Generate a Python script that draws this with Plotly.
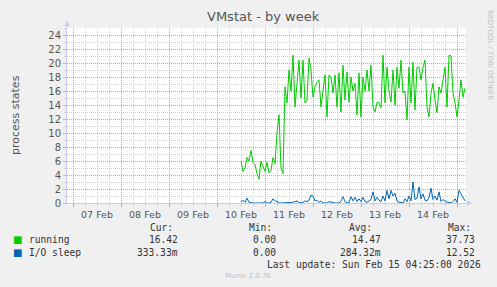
import pandas as pd
import plotly.graph_objects as go

# ---------------- data ----------------
series_start = "2026-02-10 12:00"
running = [
    6.0, 4.5, 5.0, 6.5, 6.0, 7.5, 5.8, 5.5, 4.2, 3.4,
    6.0, 5.2, 4.5, 5.8, 4.3, 4.6, 6.5, 5.6, 10.0, 12.6,
    5.0, 4.2, 16.6, 14.3, 19.0, 16.0, 21.1, 13.7, 17.0, 20.4,
    15.0, 20.4, 14.3, 14.7, 20.7, 19.0, 15.1, 16.6, 17.3, 17.6,
    13.7, 16.0, 18.3, 12.3, 18.3, 18.0, 15.7, 18.3, 13.7, 18.6,
    13.0, 19.7, 14.7, 18.7, 14.4, 18.0, 16.0, 17.1, 12.6, 18.6,
    12.3, 18.0, 16.0, 19.0, 16.0, 19.7, 13.7, 13.0, 14.4, 14.3,
    13.6, 21.1, 14.3, 19.4, 16.0, 14.4, 19.0, 14.0, 19.4, 16.4,
    20.4, 15.7, 16.0, 11.9, 19.4, 14.3, 20.1, 13.3, 19.4, 19.4,
    17.6, 19.4, 20.4, 13.7, 12.3, 15.7, 17.1, 14.7, 12.9, 16.6,
    15.7, 17.6, 19.4, 13.7, 21.1, 21.0, 15.7, 14.3, 12.3, 14.7,
    17.6, 15.1, 16.4,
]
io_sleep = [
    0.1, 0.4, 0.1, 0.7, 0.1, 0.0, 0.0, 0.0, 0.0, 0.0,
    0.0, 0.0, 0.2, 0.0, 0.0, 0.1, 0.6, 0.3, 0.2, 0.0,
    0.0, 0.0, 0.0, 0.0, 0.1, 0.0, 0.1, 0.2, 0.3, 0.1,
    0.0, 0.1, 0.3, 0.2, 0.4, 1.1, 1.0, 0.3, 0.4, 0.1,
    0.3, 0.0, 0.0, 0.0, 0.2, 0.1, 0.0, 0.0, 0.0, 0.0,
    0.3, 0.9, 0.2, 0.0, 0.1, 0.9, 0.3, 0.8, 0.2, 0.6,
    0.2, 0.8, 0.2, 0.1, 0.3, 0.5, 1.6, 0.3, 0.8, 0.4,
    0.2, 1.0, 0.3, 1.8, 0.6, 1.8, 1.0, 1.4, 0.3, 0.1,
    0.1, 0.0, 0.6, 0.2, 1.0, 0.3, 3.0, 0.5, 0.7, 2.3,
    0.6, 1.3, 0.4, 0.3, 0.8, 2.1, 0.5, 1.0, 0.4, 1.6,
    0.2, 0.5, 0.3, 0.1, 0.1, 0.0, 0.2, 0.6, 0.1, 1.8,
    1.3, 0.8, 0.3,
]
series_names = ["running", "I/O sleep"]
series_colors = ["#00CC00", "#0066B3"]
stat_headers = ["Cur:", "Min:", "Avg:", "Max:"]
stats_running = ["16.42", "0.00", "14.47", "37.73"]
stats_io = ["333.33m", "0.00", "284.32m", "12.52"]
x_range = ["2026-02-06 21:00", "2026-02-15 04:30"]
y_ticks = list(range(0, 25, 2))
y_minor = list(range(1, 26, 2))

six_hours = [t.strftime("%Y-%m-%d %H:%M") for t in
             pd.date_range("2026-02-06 18:00", "2026-02-15 06:00", freq="6h") if t.hour != 0]

n = min(len(running), len(io_sleep))
times = pd.date_range(series_start, periods=n, freq="1h")

# ---------------- layout helpers ----------------
W, H = 497, 287
L, R, T, B = 67, 466, 28, 203


def px(x):
    return (x - L) / (R - L)


def py(y):
    return (B - y) / (B - T)


MONO = "DejaVu Sans Mono"
SANS = "DejaVu Sans"
MAJ = "rgb(235,150,150)"
MIN = "rgb(208,208,208)"
AXIS = "#C8C8F0"
DOT = "1px,1px"
DAY_MS = 86400000

fig = go.Figure()
fig.add_trace(go.Scatter(x=times, y=running[:n], mode="lines", name=series_names[0],
                         line=dict(color=series_colors[0], width=1)))
fig.add_trace(go.Scatter(x=times, y=io_sleep[:n], mode="lines", name=series_names[1],
                         line=dict(color=series_colors[1], width=1)))

fig.update_layout(
    width=W, height=H,
    margin=dict(l=L, r=W - R, t=T, b=H - B),
    paper_bgcolor="#F0F0F0", plot_bgcolor="#FFFFFF",
    showlegend=False,
    xaxis=dict(
        type="date", range=x_range, tick0="2026-02-07", dtick=DAY_MS, tickformat="%d %b",
        ticklabelmode="period",
        showgrid=True, gridcolor=MAJ, griddash=DOT, gridwidth=1,
        ticks="outside", ticklen=3, tickcolor=MAJ,
        tickfont=dict(family=SANS, size=9.5, color="#555555"),
        showline=True, linecolor=AXIS, linewidth=1, zeroline=False,
        minor=dict(tickmode="array", tickvals=six_hours, showgrid=True, gridcolor=MIN,
                   griddash=DOT, gridwidth=1, ticks="outside", ticklen=2, tickcolor=MIN),
    ),
    yaxis=dict(
        range=[0, 25], tickmode="array", tickvals=y_ticks, showgrid=True, gridcolor=MAJ,
        griddash=DOT, gridwidth=1, ticks="outside", ticklen=3, tickcolor="#BBBBBB",
        tickfont=dict(family=SANS, size=10, color="#555555"), zeroline=False,
        showline=True, linecolor=AXIS, linewidth=1,
        minor=dict(tickmode="array", tickvals=y_minor, showgrid=True, gridcolor=MIN,
                   griddash=DOT, gridwidth=1, ticks="outside", ticklen=2, tickcolor=MIN),
    ),
)

ann = []
# title
ann.append(dict(text="VMstat - by week", x=px(263), y=py(17), xref="paper", yref="paper",
                showarrow=False, font=dict(family=SANS, size=13, color="#555555"),
                xanchor="center", yanchor="middle"))
# y axis title
ann.append(dict(text="process states", x=px(15), y=py(115), xref="paper", yref="paper",
                showarrow=False, textangle=-90, font=dict(family=SANS, size=11, color="#555555"),
                xanchor="center", yanchor="middle"))
# rrdtool side text
ann.append(dict(text="RRDTOOL / TOBI OETIKER", x=px(490), y=py(55), xref="paper", yref="paper",
                showarrow=False, textangle=90, font=dict(family=SANS, size=7, color="#C0C0C0"),
                xanchor="center", yanchor="middle"))
# axis arrows
ann.append(dict(x=0, y=1, xref="paper", yref="paper", ax=0, ay=8, yshift=7, showarrow=True,
                arrowhead=2, arrowsize=1, arrowwidth=1, arrowcolor=AXIS, text=""))
ann.append(dict(x=1, y=0, xref="paper", yref="paper", ax=-8, ay=0, xshift=6, showarrow=True,
                arrowhead=2, arrowsize=1, arrowwidth=1, arrowcolor=AXIS, text=""))

# legend table
col_centers = [161, 260, 360, 459]
right_edges = [180, 278, 383, 477]
for hdr, cx in zip(stat_headers, col_centers):
    ann.append(dict(text=hdr, x=px(cx), y=py(227), xref="paper", yref="paper", showarrow=False,
                    xanchor="center", yanchor="middle", font=dict(family=MONO, size=9.6, color="#333333")))
rows = [(series_names[0], stats_running, series_colors[0], 239),
        (series_names[1], stats_io, series_colors[1], 252)]
for name, vals, col, yy in rows:
    ann.append(dict(text="\u25A0", x=px(17), y=py(yy), xref="paper", yref="paper", showarrow=False,
                    xanchor="center", yanchor="middle", font=dict(family=SANS, size=10, color=col)))
    ann.append(dict(text=name, x=px(27), y=py(yy), xref="paper", yref="paper", showarrow=False,
                    xanchor="left", yanchor="middle", font=dict(family=MONO, size=9.6, color="#333333")))
    for v, re in zip(vals, right_edges):
        ann.append(dict(text=v, x=px(re), y=py(yy), xref="paper", yref="paper", showarrow=False,
                        xanchor="right", yanchor="middle", font=dict(family=MONO, size=9.6, color="#333333")))
ann.append(dict(text="Last update: Sun Feb 15 04:25:00 2026", x=px(483), y=py(264), xref="paper",
                yref="paper", showarrow=False, xanchor="right", yanchor="middle",
                font=dict(family=MONO, size=9.6, color="#333333")))
ann.append(dict(text="Munin 2.0.76", x=px(248), y=py(276), xref="paper", yref="paper",
                showarrow=False, xanchor="center", yanchor="middle",
                font=dict(family=SANS, size=7, color="#C0C0C0")))
fig.update_layout(annotations=ann)

fig.write_html("out.html")
